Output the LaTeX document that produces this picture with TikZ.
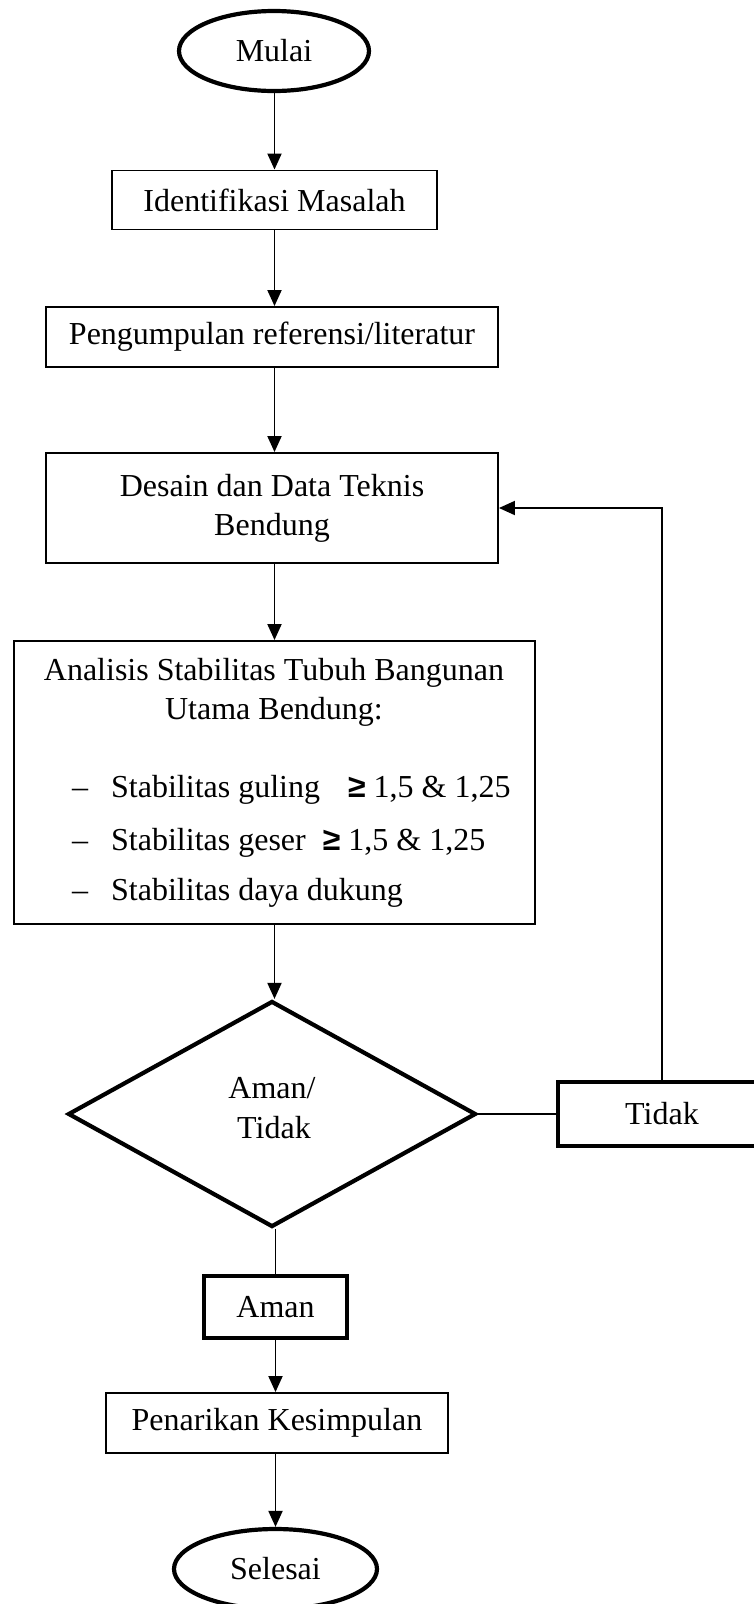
\documentclass[tikz,border=0pt]{standalone}
\usepackage{fontspec}
\setmainfont{Liberation Serif}
\setsansfont{Liberation Sans}
\usetikzlibrary{shapes.geometric,arrows.meta}
\begin{document}
\begin{tikzpicture}[x=1pt,y=-1pt,
  every node/.style={font=\fontsize{32}{39}\selectfont, inner sep=0pt},
  terminal/.style={draw, ellipse, line width=4.2pt, minimum width=190pt, minimum height=80pt},
  procbox/.style={draw, rectangle, line width=1.9pt},
  thickbox/.style={draw, rectangle, line width=4.2pt},
  decision/.style={draw, diamond, line width=4.2pt, minimum width=408pt, minimum height=226pt, align=center},
  arr/.style={line width=1.9pt, -{Triangle[length=16pt,width=14pt]}},
  plain/.style={line width=1.9pt},
  txt/.style={anchor=base}
]
\useasboundingbox (0,0) rectangle (753,1604);

% nodes
\node[terminal] (mulai) at (274,51) {Mulai};
\node[procbox, minimum width=325pt, minimum height=59pt] (ident) at (274.5,200) {Identifikasi Masalah};
\node[procbox, minimum width=452pt, minimum height=60pt] (kumpul) at (272,337) {Pengumpulan referensi/literatur};
\node[procbox, minimum width=452pt, minimum height=110pt, align=center] (desain) at (272,508) {Desain dan Data Teknis\\Bendung};
\node[procbox, minimum width=521pt, minimum height=283pt] (analisis) at (274.5,782.5) {};
\node[txt] (an1) at (274,680) {Analisis Stabilitas Tubuh Bangunan};
\node[txt] (an2) at (274,719) {Utama Bendung:};
\node[txt, anchor=base west] (d1) at (72,797) {--};
\node[txt, anchor=base west] (l1) at (111,797) {Stabilitas guling\hspace{28pt}{\sffamily\bfseries ≥} 1,5 \& 1,25};
\node[txt, anchor=base west] (d2) at (72,850) {--};
\node[txt, anchor=base west] (l2) at (111,850) {Stabilitas geser\hspace{17pt}{\sffamily\bfseries ≥} 1,5 \& 1,25};
\node[txt, anchor=base west] (d3) at (72,900) {--};
\node[txt, anchor=base west] (l3) at (111,900) {Stabilitas daya dukung};

\node[decision] (cek) at (272,1114) {};
\node[txt] (ck1) at (272,1098) {Aman/};
\node[txt] (ck2) at (274,1138) {Tidak};

\node[thickbox, minimum width=208pt, minimum height=64pt] (tidak) at (662,1114) {Tidak};
\node[thickbox, minimum width=143pt, minimum height=62pt] (aman) at (275.5,1307) {Aman};
\node[procbox, minimum width=342pt, minimum height=60pt] (tarik) at (277,1423) {Penarikan Kesimpulan};
\node[terminal, minimum width=203pt] (selesai) at (275.5,1569) {Selesai};

% connectors
\draw[arr] (mulai.south -| ident.north) -- (ident.north);
\draw[arr] (ident.south) -- (ident.south |- kumpul.north);
\draw[arr] (ident.south |- kumpul.south) -- (ident.south |- desain.north);
\draw[arr] (ident.south |- desain.south) -- (ident.south |- analisis.north);
\draw[arr] (ident.south |- analisis.south) -- (ident.south |- cek.north);
\draw[plain] (cek.east) -- (tidak.west);
\draw[arr] (tidak.north) |- (desain.east);
\draw[plain] (cek.south -| aman.north) -- (aman.north);
\draw[arr] (aman.south) -- (aman.south |- tarik.north);
\draw[arr] (aman.south |- tarik.south) -- (aman.south |- selesai.north);
\end{tikzpicture}
\end{document}
